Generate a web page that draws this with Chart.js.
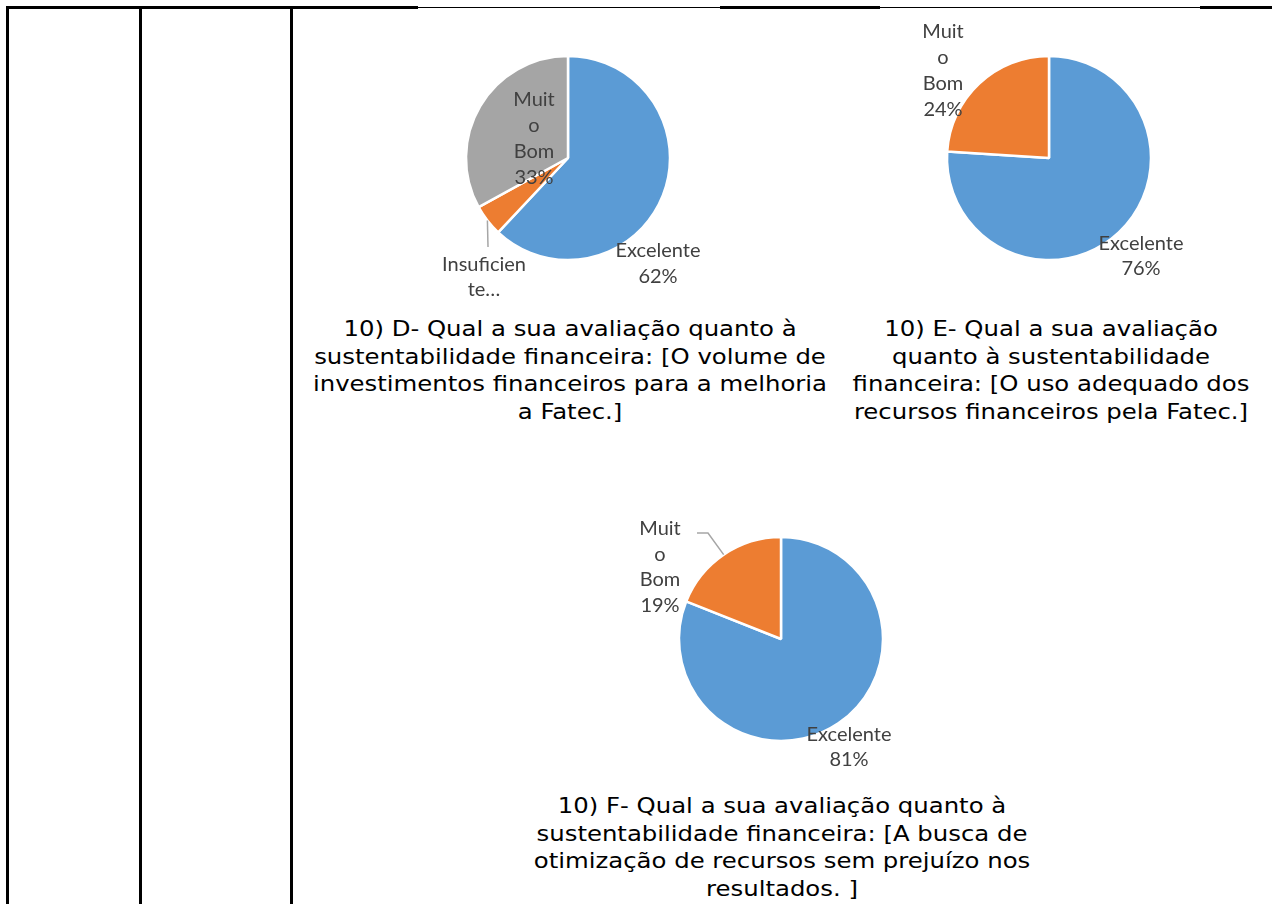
<!DOCTYPE html>
<html>
<head>
<meta charset="utf-8">
<script src="https://cdn.jsdelivr.net/npm/chart.js@4/dist/chart.umd.min.js"></script>
<style>
  html, body { margin: 0; padding: 0; background: #fff; }
  body { width: 1272px; height: 904px; position: relative; overflow: hidden; }
  .line { position: absolute; background: #000; }
  .box { position: absolute; }
  .caption {
    position: absolute;
    font-family: "DejaVu Sans", Verdana, sans-serif;
    font-size: 21px;
    line-height: 27.7px;
    color: #000;
    text-align: center;
    white-space: nowrap;
    transform: translateX(-50%) scaleX(1.16);
  }
</style>
</head>
<body>
  <!-- moldura da tabela -->
  <div class="line" style="left:6px;top:6px;width:412px;height:3px"></div>
  <div class="line" style="left:418px;top:7px;width:302px;height:1px"></div>
  <div class="line" style="left:720px;top:6px;width:160px;height:3px"></div>
  <div class="line" style="left:880px;top:7px;width:320px;height:1px"></div>
  <div class="line" style="left:1200px;top:6px;width:72px;height:3px"></div>
  <div class="line" style="left:6px;top:6px;width:3px;height:898px"></div>
  <div class="line" style="left:139px;top:6px;width:3px;height:898px"></div>
  <div class="line" style="left:290px;top:6px;width:3px;height:898px"></div>

  <div class="box" style="left:418px;top:10px;width:300px;height:296px"><canvas id="chartD"></canvas></div>
  <div class="box" style="left:899px;top:10px;width:300px;height:296px"><canvas id="chartE"></canvas></div>
  <div class="box" style="left:631px;top:491px;width:300px;height:296px"><canvas id="chartF"></canvas></div>

  <div class="caption" style="left:570px;top:316px">10) D- Qual a sua avaliação quanto à<br>sustentabilidade financeira: [O volume de<br>investimentos financeiros para a melhoria<br>a Fatec.]</div>
  <div class="caption" style="left:1051px;top:316px">10) E- Qual a sua avaliação<br>quanto à sustentabilidade<br>financeira: [O uso adequado dos<br>recursos financeiros pela Fatec.]</div>
  <div class="caption" style="left:782px;top:793px">10) F- Qual a sua avaliação quanto à<br>sustentabilidade financeira: [A busca de<br>otimização de recursos sem prejuízo nos<br>resultados. ]</div>

<script>
// dados das respostas (%)
const catD = ['Excelente', 'Insuficiente', 'Muito Bom'];
const valD = [62, 5, 33];
const catE = ['Excelente', 'Muito Bom'];
const valE = [76, 24];
const catF = ['Excelente', 'Muito Bom'];
const valF = [81, 19];

const AZUL = '#5B9BD5', LARANJA = '#ED7D31', CINZA = '#A5A5A5';

// rótulos no estilo do Excel: texto quebrado + percentual, com linha guia opcional
const rotulosPlugin = {
  id: 'rotulos',
  afterDatasetsDraw(chart, args, opts) {
    const ctx = chart.ctx;
    const meta = chart.getDatasetMeta(0);
    const dados = chart.data.datasets[0].data;
    const total = dados.reduce((a, b) => a + b, 0);
    ctx.save();
    ctx.font = '20px Lato, "Liberation Sans", sans-serif';
    ctx.fillStyle = '#404040';
    ctx.textAlign = 'center';
    ctx.textBaseline = 'middle';
    opts.itens.forEach((it, i) => {
      const arc = meta.data[i];
      const cx = arc.x, cy = arc.y;
      const pct = Math.round(dados[i] / total * 100) + '%';
      const linhas = it.linhas.map(l => l === '%' ? pct : l);
      const lh = 25.7;
      const y0 = cy + it.dy - (linhas.length - 1) * lh / 2;
      if (it.guia) {
        const mid = (arc.startAngle + arc.endAngle) / 2;
        ctx.beginPath();
        ctx.strokeStyle = '#A6A6A6';
        ctx.lineWidth = 1.5;
        ctx.moveTo(cx + Math.cos(mid) * arc.outerRadius, cy + Math.sin(mid) * arc.outerRadius);
        it.guia.forEach(p => ctx.lineTo(cx + p[0], cy + p[1]));
        ctx.stroke();
      }
      linhas.forEach((l, k) => ctx.fillText(l, cx + it.dx, y0 + k * lh));
    });
    ctx.restore();
  }
};

function pizza(id, cats, vals, cores, itens) {
  return new Chart(document.getElementById(id), {
    type: 'pie',
    data: {
      labels: cats,
      datasets: [{
        data: vals,
        backgroundColor: cores,
        borderColor: '#fff',
        borderWidth: 2.5,
        radius: 102,
        hoverOffset: 0
      }]
    },
    options: {
      responsive: true,
      maintainAspectRatio: false,
      animation: false,
      events: [],
      layout: { padding: 0 },
      plugins: {
        legend: { display: false },
        tooltip: { enabled: false },
        rotulos: { itens: itens }
      }
    },
    plugins: [rotulosPlugin]
  });
}

pizza('chartD', catD, valD, [AZUL, LARANJA, CINZA], [
  { linhas: ['Excelente', '%'], dx: 90, dy: 105.5 },
  { linhas: ['Insuficien', 'te…'], dx: -84, dy: 119, guia: [[-80, 89]] },
  { linhas: ['Muit', 'o', 'Bom', '%'], dx: -34, dy: -19.5 }
]);

pizza('chartE', catE, valE, [AZUL, LARANJA], [
  { linhas: ['Excelente', '%'], dx: 92, dy: 98 },
  { linhas: ['Muit', 'o', 'Bom', '%'], dx: -106, dy: -87.5 }
]);

pizza('chartF', catF, valF, [AZUL, LARANJA], [
  { linhas: ['Excelente', '%'], dx: 68, dy: 108 },
  { linhas: ['Muit', 'o', 'Bom', '%'], dx: -121, dy: -72, guia: [[-73, -106], [-84, -106]] }
]);
</script>
</body>
</html>
